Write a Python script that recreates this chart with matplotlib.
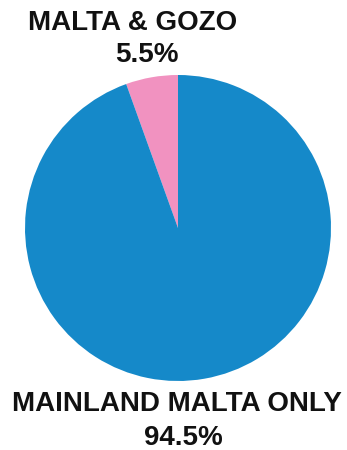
import matplotlib.pyplot as plt

# ---- Data ----
labels = ["MAINLAND MALTA ONLY", "MALTA & GOZO"]
shares = [94.5, 5.5]
colors = ["#1589c9", "#f192c0"]

W, H = 347, 450
fig = plt.figure(figsize=(W / 100, H / 100), dpi=100)

# pie axes placed in pixel terms: centre (178, 228), radius 153
cx, cy, r = 178, 228, 153
ax = fig.add_axes([(cx - r) / W, (H - cy - r) / H, 2 * r / W, 2 * r / H])
ax.pie(shares[::-1], colors=colors[::-1], startangle=90, counterclock=True,
       wedgeprops=dict(linewidth=0))
ax.set_xlim(-1, 1)
ax.set_ylim(-1, 1)
ax.set_aspect("equal")
ax.axis("off")

font = dict(family="Liberation Sans", weight="bold", color="#111111", ha="center", va="center")

fig.text(133 / W, 1 - 23 / H, labels[1], fontsize=20, **font)
fig.text(147 / W, 1 - 55 / H, f"{shares[1]}%", fontsize=20, **font)
fig.text(177 / W, 1 - 404 / H, labels[0], fontsize=20, **font)
fig.text(183 / W, 1 - 438 / H, f"{shares[0]}%", fontsize=20, **font)

fig.savefig("out.png", dpi=100)
